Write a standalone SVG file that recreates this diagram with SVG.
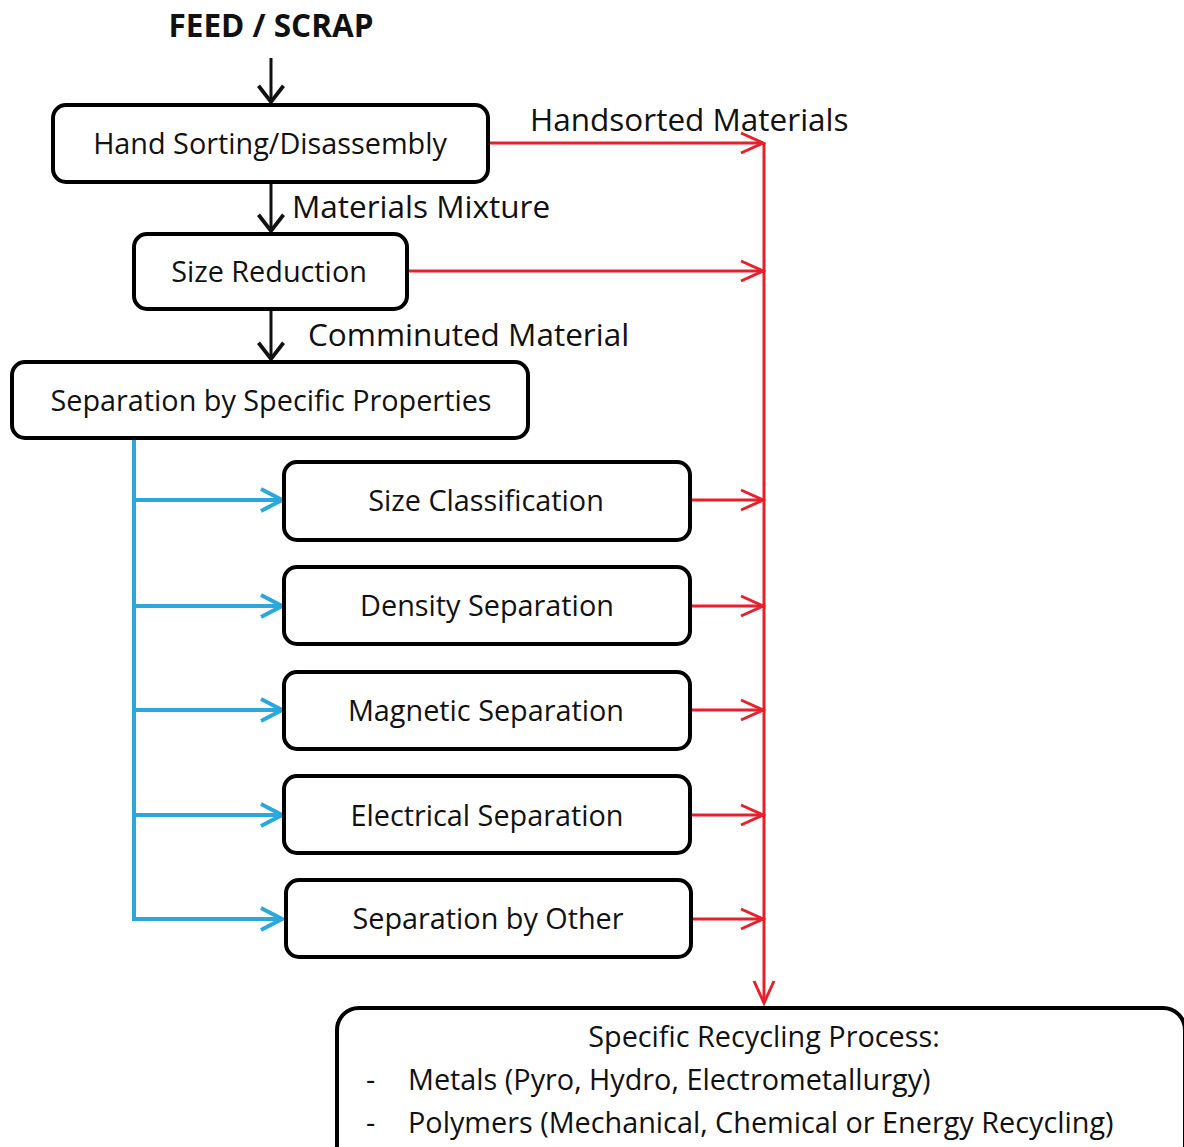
<svg xmlns="http://www.w3.org/2000/svg" width="1184" height="1147" viewBox="0 0 1184 1147">
<style>
.box{fill:#fff;stroke:#000;stroke-width:4}
.t{font-family:"Open Sans","Liberation Sans",sans-serif;font-size:28.8px;fill:#111}
.l{font-size:31.5px}
.c{text-anchor:middle}
.blk{stroke:#111;stroke-width:3;fill:none}
.red{stroke:#e8202a;stroke-width:3;fill:none}
.blue{stroke:#2aa7dc;stroke-width:4;fill:none}
</style>
<defs>
<marker id="ab" markerUnits="userSpaceOnUse" markerWidth="30" markerHeight="30" viewBox="-16 -12 20 24" refX="0" refY="0" orient="auto">
<path d="M-13,-10 L0,0 L-13,10" fill="none" stroke="#111" stroke-width="3"/>
</marker>
<marker id="ar" markerUnits="userSpaceOnUse" markerWidth="30" markerHeight="30" viewBox="-26 -13 30 26" refX="0" refY="0" orient="auto">
<path d="M-22,-10 L0,0 L-22,10" fill="none" stroke="#e8202a" stroke-width="3"/>
</marker>
<marker id="au" markerUnits="userSpaceOnUse" markerWidth="30" markerHeight="30" viewBox="-26 -13 30 26" refX="0" refY="0" orient="auto">
<path d="M-21,-11 L0,0 L-21,11" fill="none" stroke="#2aa7dc" stroke-width="4"/>
</marker>
</defs>

<g id="connectors">
<line class="blk" x1="271" y1="58" x2="271" y2="102" marker-end="url(#ab)"/>
<line class="blk" x1="271" y1="183" x2="271" y2="231" marker-end="url(#ab)"/>
<line class="blk" x1="271" y1="310" x2="271" y2="359" marker-end="url(#ab)"/>
<line class="red" x1="489" y1="143" x2="763" y2="143" marker-end="url(#ar)"/>
<line class="red" x1="408" y1="271" x2="763" y2="271" marker-end="url(#ar)"/>
<line class="red" x1="764" y1="143" x2="764" y2="1003" marker-end="url(#ar)"/>
<line class="red" x1="691" y1="500" x2="763" y2="500" marker-end="url(#ar)"/>
<line class="red" x1="691" y1="606" x2="763" y2="606" marker-end="url(#ar)"/>
<line class="red" x1="691" y1="710" x2="763" y2="710" marker-end="url(#ar)"/>
<line class="red" x1="691" y1="815" x2="763" y2="815" marker-end="url(#ar)"/>
<line class="red" x1="692" y1="919" x2="763" y2="919" marker-end="url(#ar)"/>
<polyline class="blue" points="134,439 134,919 282,919" marker-end="url(#au)"/>
<line class="blue" x1="134" y1="500" x2="282" y2="500" marker-end="url(#au)"/>
<line class="blue" x1="134" y1="606" x2="282" y2="606" marker-end="url(#au)"/>
<line class="blue" x1="134" y1="710" x2="282" y2="710" marker-end="url(#au)"/>
<line class="blue" x1="134" y1="815" x2="282" y2="815" marker-end="url(#au)"/>
</g>

<g id="labels">
<text class="t l c" x="271" y="37" style="font-weight:bold">FEED / SCRAP</text>
<text class="t l" x="530" y="131">Handsorted Materials</text>
<text class="t l" x="292" y="218">Materials Mixture</text>
<text class="t l" x="308" y="346">Comminuted Material</text>
</g>

<g id="n1"><rect class="box" x="53" y="105" width="435" height="77" rx="13"/><text class="t c" x="270" y="154">Hand Sorting/Disassembly</text></g>
<g id="n2"><rect class="box" x="134" y="234" width="273" height="75" rx="13"/><text class="t c" x="269" y="282">Size Reduction</text></g>
<g id="n3"><rect class="box" x="12" y="362" width="516" height="76" rx="13"/><text class="t c" x="271" y="411">Separation by Specific Properties</text></g>
<g id="n4"><rect class="box" x="284" y="462" width="406" height="78" rx="13"/><text class="t c" x="486" y="511">Size Classification</text></g>
<g id="n5"><rect class="box" x="284" y="567" width="406" height="77" rx="13"/><text class="t c" x="487" y="616">Density Separation</text></g>
<g id="n6"><rect class="box" x="284" y="672" width="406" height="77" rx="13"/><text class="t c" x="486" y="721">Magnetic Separation</text></g>
<g id="n7"><rect class="box" x="284" y="776" width="406" height="77" rx="13"/><text class="t c" x="487" y="826">Electrical Separation</text></g>
<g id="n8"><rect class="box" x="286" y="880" width="405" height="77" rx="13"/><text class="t c" x="488" y="929">Separation by Other</text></g>
<g id="n9"><rect class="box" x="337" y="1008" width="848" height="160" rx="22"/>
<text class="t c" x="764" y="1047">Specific Recycling Process:</text>
<text class="t" x="366" y="1090">-</text><text class="t" x="408" y="1090">Metals (Pyro, Hydro, Electrometallurgy)</text>
<text class="t" x="366" y="1133">-</text><text class="t" x="408" y="1133">Polymers (Mechanical, Chemical or Energy Recycling)</text>
</g>
</svg>
